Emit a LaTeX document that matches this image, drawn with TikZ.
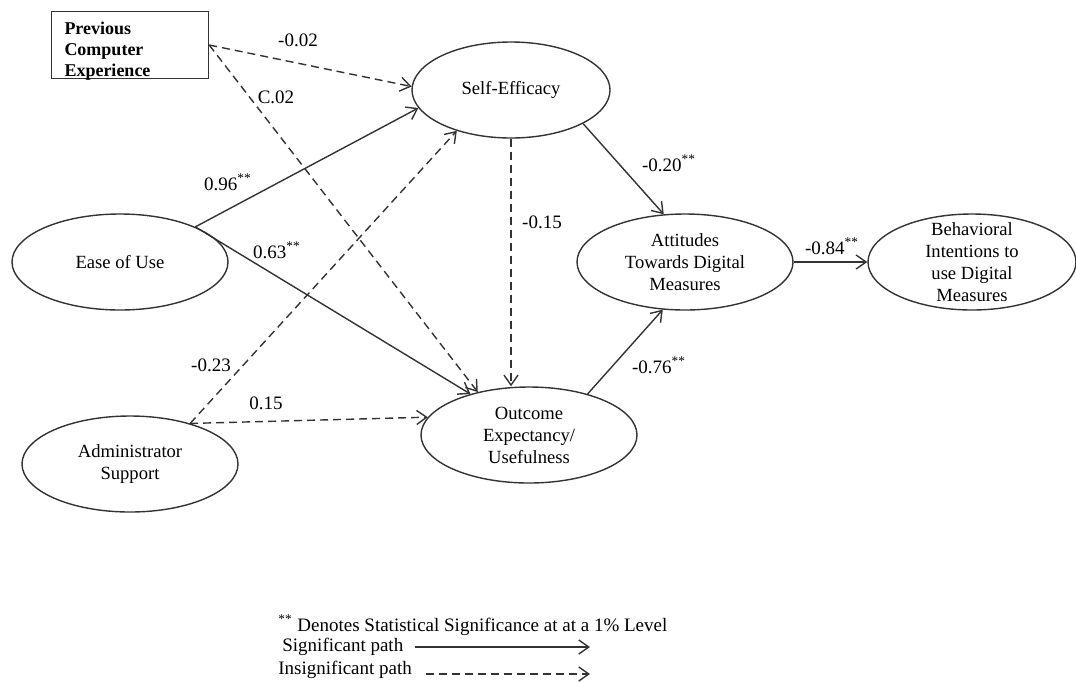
\documentclass[tikz,border=0pt]{standalone}
\usepackage{fontspec}
\setmainfont{Liberation Serif}
\usetikzlibrary{shapes.geometric,arrows.meta,positioning,calc}
\definecolor{semInk}{HTML}{333333}
\tikzset{
    semBoxBase/.style={
        rectangle,
        draw=semInk,
        line width=0.7pt,
        minimum width=78.5pt,
        minimum height=33.5pt,
        inner sep=0pt
    },
    semBoxText/.style={
        text width=65.5pt,
        font=\fontsize{9}{10.5}\selectfont\bfseries,
        align=left,
        inner sep=0pt,
        yshift=-3pt
    },
    semLatent/.style={
        ellipse,
        draw=semInk,
        line width=0.7pt,
        minimum width=108pt,
        minimum height=48pt,
        inner sep=0pt
    },
    semText/.style={
        font=\fontsize{9.3}{11}\selectfont,
        align=center,
        inner sep=0pt
    },
    % Paths
    semArrowBase/.style={-{Straight Barb[length=5pt,width=7pt]}, line width=0.7pt, draw=semInk},
    sigPath/.style={semArrowBase},
    insigPath/.style={semArrowBase, dash pattern=on 4pt off 2.5pt},
    semLabel/.style={font=\fontsize{9.5}{11}\selectfont, inner sep=1pt},
    semLegend/.style={font=\fontsize{9.5}{11}\selectfont, anchor=west, inner sep=0pt}
}

\begin{document}
\begin{tikzpicture}[x=0.5pt, y=-0.5pt]
\useasboundingbox (0,0) rectangle (1076,681);

% Constructs
\node[semBoxBase, label={[semBoxText]center:{Previous\\Computer\\Experience}}] (pce) at (130,45) {};
\node[semLatent, minimum width=99pt, label={[semText]center:{Self-Efficacy}}] (se) at (511,90) {};
\node[semLatent, label={[semText]center:{Ease of Use}}] (eou) at (120,262) {};
\node[semLatent, label={[semText]center:{Administrator\\Support}}] (adm) at (130,464) {};
\node[semLatent, label={[semText]center:{Outcome\\Expectancy/\\Usefulness}}] (oe) at (529,435) {};
\node[semLatent, label={[semText]center:{Attitudes\\Towards Digital\\Measures}}] (att) at (685,262) {};
\node[semLatent, minimum width=104pt, label={[semText]center:{Behavioral\\Intentions to\\use Digital\\Measures}}] (beh) at (972,262) {};

% Paths
\draw[insigPath] (pce.east) -- (se.178);
\draw[insigPath] (pce.east) -- (oe.140);
\draw[sigPath] (eou.25) -- (se.191);
\draw[sigPath] (eou.25) -- (oe.145);
\draw[insigPath] (adm.34) -- (se.217);
\draw[insigPath] (adm.34) -- (oe.170);
\draw[insigPath] (se.south) -- (se.south |- oe.north);
\draw[sigPath] (se.-25) -- (att.114);
\draw[sigPath] (oe.35) -- (att.245);
\draw[sigPath] (att.east) -- (beh.west);

% Coefficients
\node[semLabel] (cPceSe) at (298,40) {-0.02};
\node[semLabel] (cPceOe) at (276,97) {C.02};
\node[semLabel] (cEouSe) at (228,182) {0.96\textsuperscript{**}};
\node[semLabel] (cEouOe) at (277,250) {0.63\textsuperscript{**}};
\node[semLabel] (cAdmSe) at (211,365) {-0.23};
\node[semLabel] (cAdmOe) at (266,403) {0.15};
\node[semLabel] (cSeOe) at (542,222) {-0.15};
\node[semLabel] (cSeAtt) at (669,163) {-0.20\textsuperscript{**}};
\node[semLabel] (cOeAtt) at (659,365) {-0.76\textsuperscript{**}};
\node[semLabel] (cAttBeh) at (832,246) {-0.84\textsuperscript{**}};

% Legend
\node[semLegend] (legNote) at (278,625) {\textsuperscript{**} Denotes Statistical Significance at at a 1\% Level};
\node[semLegend] (legSig) at (282,647) {Significant path};
\node[semLegend] (legInsig) at (278,670) {Insignificant path};
\coordinate (sigEnd) at (590,647);
\coordinate (insigEnd) at (590,674);
\draw[sigPath] ([xshift=5.5pt]legSig.east) -- (sigEnd);
\draw[insigPath] ([xshift=7pt]legInsig.east |- insigEnd) -- (insigEnd);
\end{tikzpicture}
\end{document}
